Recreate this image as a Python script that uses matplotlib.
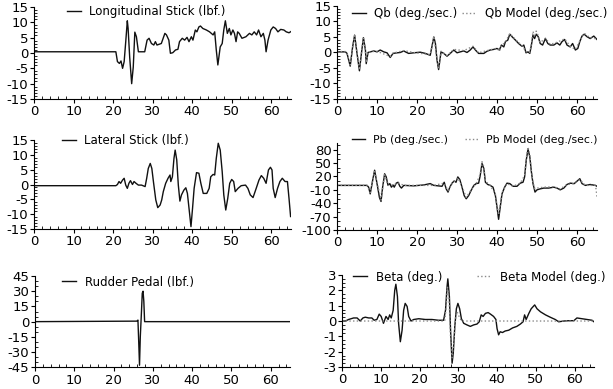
import matplotlib
matplotlib.use("Agg")
import matplotlib.pyplot as plt
from matplotlib.ticker import MultipleLocator

plt.rcParams['font.family'] = ['DejaVu Sans']
plt.rcParams['font.size'] = 8.5
plt.rcParams['axes.unicode_minus'] = False

# ---- longitudinal stick (lbf.)
lon_t = [0, 20.7, 21.1, 21.6, 22.0, 22.4, 22.8, 23.2, 23.6, 23.8, 24.2, 24.7, 25.1, 25.5, 25.9,
         26.4, 28.0, 28.6, 29.1, 29.7, 30.3, 30.7, 31.1, 32.2, 33.1, 33.5, 34.1, 34.5, 35.1,
         35.8, 36.4, 36.8, 37.5, 38.1, 38.7, 39.2, 39.8, 40.2, 40.8, 41.2, 41.7, 42.1, 42.7,
         43.6, 44.4, 45.3, 45.7, 46.1, 46.5, 47.1, 47.6, 48.0, 48.4, 48.9, 49.4, 49.8, 50.3,
         50.7, 51.1, 51.5, 51.9, 52.6, 53.6, 54.5, 55.1, 55.7, 56.3, 56.8, 57.4, 58.0, 58.4,
         58.7, 59.2, 59.9, 60.5, 61.1, 61.7, 62.4, 63.2, 63.8, 64.5, 65.0]
lon_v = [0.4, 0.4, -2.8, -3.4, -2.6, -5.0, -2.8, 3.7, 10.5, 8.0, -1.4, -10.0, -4.6, 6.8, 5.3,
         0.4, 0.4, 4.2, 4.8, 3.1, 2.6, 3.7, 2.6, 3.1, 6.4, 5.9, 4.2, -0.1, 0.1,
         1.0, 1.2, 3.7, 4.8, 4.2, 5.1, 3.7, 5.3, 4.2, 7.5, 6.9, 8.5, 8.8, 8.0,
         7.5, 6.9, 5.9, 6.9, 1.0, -3.9, 2.0, 3.1, 7.5, 10.5, 6.4, 8.0, 5.9, 7.5,
         6.4, 3.7, 6.9, 6.4, 4.8, 5.3, 6.4, 5.9, 6.9, 5.9, 7.5, 5.3, 6.4, 4.2,
         0.4, 4.2, 7.5, 8.5, 8.0, 6.9, 7.7, 7.5, 6.9, 6.6, 7.0]

# ---- lateral stick (lbf.)
lat_t = [0, 20.7, 21.1, 21.5, 21.9, 22.4, 22.8, 23.2, 23.6, 24.0, 24.4, 24.9, 25.3, 25.8,
         26.4, 27.2, 28.1, 28.5, 28.9, 29.4, 29.8, 30.2, 30.8, 31.3, 31.9, 32.3, 32.7, 33.3,
         33.9, 34.4, 34.6, 35.0, 35.4, 35.7, 36.1, 36.5, 36.9, 37.3, 37.9, 38.4, 38.8, 39.3,
         39.7, 40.1, 40.5, 41.1, 41.7, 42.2, 42.8, 43.7, 44.3, 44.7, 45.3, 45.7, 46.1, 46.6,
         47.1, 47.6, 48.0, 48.5, 49.0, 49.5, 50.0, 50.5, 50.9, 51.6, 52.4, 53.5, 54.1, 54.7,
         55.4, 56.2, 56.9, 57.5, 58.1, 58.7, 59.3, 59.8, 60.2, 60.5, 61.0, 61.6, 62.2, 62.8,
         63.5, 64.1, 64.5, 64.9]
lat_v = [-0.4, -0.4, 0.0, 1.0, 0.4, 1.5, 2.1, -0.2, -1.3, 0.4, 1.3, 0.0, 1.0, 0.4,
         -0.2, -0.2, -0.7, 2.1, 5.4, 7.1, 5.4, 1.0, -5.2, -7.8, -6.9, -5.2, -2.4, 0.4,
         2.1, 3.2, 1.0, 2.6, 8.8, 11.6, 8.3, -0.2, -5.6, -3.5, -1.9, -1.1, -3.0, -9.2,
         -14.2, -8.0, -1.3, 4.0, 3.8, 0.4, -3.0, -3.0, -1.3, 2.6, 3.4, 3.2, 8.8, 13.9,
         11.6, 4.3, -3.5, -8.6, -4.7, 0.4, 1.7, 1.0, -2.4, -1.3, -0.4, -0.2, -1.3, -3.5,
         -4.4, -1.3, 1.5, 3.0, 2.1, 0.4, 4.9, 5.8, 4.9, -1.3, -4.4, -1.3, 1.0, 2.1,
         1.0, 1.0, -4.7, -10.8]

# ---- rudder pedal (lbf.)
rud_t = [0, 25.9, 26.2, 26.4, 26.6, 26.8, 27.1, 27.3, 27.5, 27.7, 27.9, 65]
rud_v = [0, 0.5, 1.5, -20, -43, -15, 10, 28, 30, 20, 0, 0]

# ---- Qb (deg./sec.)
qb_t = [0, 2.1, 2.5, 3.3, 3.9, 4.4, 5.0, 5.6, 6.1, 6.6, 7.1, 7.3, 7.75, 8.3, 9.2, 10.0, 10.8,
        11.7, 12.5, 13.3, 14.0, 15.0, 15.8, 16.7, 17.1, 17.9, 19.2, 20.8, 22.1, 23.3, 24.2,
        24.6, 25.0, 25.4, 26.0, 26.7, 27.5, 28.3, 29.2, 30.0, 30.8, 31.7, 32.5, 33.3, 34.0,
        34.6, 35.4, 36.7, 37.5, 38.3, 39.2, 40.0, 40.6, 41.1, 41.7, 42.1, 42.7, 43.2, 43.75,
        44.6, 45.4, 46.25, 46.7, 47.25, 47.75, 48.2, 48.6, 49.0, 49.4, 49.8, 50.3, 50.8, 51.4,
        52.1, 52.7, 53.3, 54.2, 55.0, 55.7, 56.25, 56.9, 57.5, 58.3, 58.9, 59.6, 60.2, 60.7,
        61.25, 61.8, 62.5, 63.3, 64.2, 65.0]
qb_v = [0.2, 0.2, -0.3, -4.4, 1.8, 5.6, -0.3, -5.9, -0.3, 4.8, 0.8, -3.6, 0.0, 0.2, 0.5, 0.2, 0.8,
        0.2, -0.1, -1.6, -0.3, -0.1, 0.0, 0.5, 0.2, -0.3, -0.1, 0.1, -0.3, -0.9, 5.0,
        2.9, -2.5, -5.5, 0.2, -0.3, -1.2, -0.3, 0.8, -0.1, 0.2, 0.5, 0.0, 0.8, 1.8,
        0.8, -0.3, -0.3, 0.4, 0.8, 1.0, 1.3, 0.8, 2.4, 1.8, 3.5, 4.0, 5.9, 5.1,
        4.0, 2.9, 2.0, 2.4, -0.1, 0.2, -0.3, 2.4, 5.6, 4.5, 5.9, 5.1, 2.9, 2.4,
        4.5, 2.9, 2.4, 2.4, 3.1, 2.4, 3.5, 4.2, 2.4, 1.8, 2.9, 0.8, 1.3, 3.5,
        5.3, 5.9, 5.1, 4.5, 5.3, 4.2]
qb_model_t = [0, 2.1, 2.5, 3.3, 3.9, 4.4, 5.0, 5.6, 6.1, 6.6, 7.1, 7.3, 7.75, 10.0, 13.3, 14.0,
              16.7, 19.2, 23.3, 24.2, 25.0, 25.4, 26.0, 27.5, 29.2, 31.7, 34.0, 35.4, 37.5, 40.0,
              40.6, 41.1, 42.1, 43.2, 44.6, 46.25, 47.25, 48.2, 48.6, 49.0, 49.4, 49.8, 50.3,
              50.8, 52.1, 53.3, 55.0, 56.9, 58.3, 59.6, 60.7, 61.8, 63.3, 65.0]
qb_model_v = [0.3, 0.3, -0.2, -4.0, 1.9, 5.4, -0.2, -5.6, -0.2, 4.6, 0.9, -3.2, 0.2, 0.4, -1.3, -0.2,
              0.6, 0.0, -0.7, 5.2, -2.3, -5.2, 0.4, -1.0, 1.0, 0.6, 2.0, -0.1, 0.6, 1.4,
              0.4, 2.2, 3.3, 6.1, 4.2, 2.2, 0.3, 0.0, 2.8, 6.8, 5.0, 6.9, 5.4,
              3.2, 4.6, 2.6, 3.3, 4.4, 2.0, 1.0, 3.7, 6.2, 4.7, 4.4]

# ---- Pb (deg./sec.)
pb_t = [0, 7.5, 7.9, 8.3, 8.9, 9.4, 10.0, 10.6, 11.0, 11.4, 11.9, 12.3, 12.75, 13.2, 13.6,
        14.0, 14.3, 14.8, 15.25, 15.7, 16.1, 16.7, 19.2, 21.7, 23.3, 24.2, 26.25, 26.8, 27.3,
        27.75, 28.2, 28.75, 29.3, 29.75, 30.2, 30.7, 31.25, 31.8, 32.3, 32.9, 33.6, 34.2,
        34.8, 35.4, 35.8, 36.25, 36.7, 37.1, 37.7, 38.3, 39.0, 39.6, 40.0, 40.4, 40.8, 41.25,
        41.9, 42.5, 43.2, 44.0, 45.0, 45.8, 46.5, 46.9, 47.3, 47.75, 48.2, 48.6, 49.0, 49.5,
        50.0, 50.7, 51.7, 52.9, 54.2, 55.0, 55.8, 56.7, 57.5, 58.3, 59.3, 60.2, 60.7, 61.25,
        62.1, 63.3, 64.6, 65.0]
pb_v = [0, 0, -4, -19, 11, 34, 4, -27, -36, -4, 26, 19, 0, 4, -4,
        1, -4, 5, 7, -2, -6, 0, -1, 1, 4, 0, -2, 7, -8,
        -15, -4, 5, 10, 7, 19, 13, -4, -23, -30, -23, -10, 0,
        4, 5, 22, 49, 38, 7, 2, 0, -4, -23, -49, -76, -49, -19,
        -4, 5, 4, -2, -2, 5, 7, 19, 56, 81, 64, 30, 4, -15,
        -10, -8, -6, -6, -4, -6, -10, -6, 2, 5, 4, 11, 15, 4,
        0, 2, 0, -2]
pb_model_t = [0, 7.5, 8.3, 9.4, 11.0, 11.9, 12.75, 14.0, 15.25, 16.7, 24.2, 26.8, 27.75, 28.75,
              30.2, 31.25, 32.3, 33.6, 34.8, 35.8, 36.25, 36.7, 37.1, 38.3, 39.6, 40.0, 40.4,
              40.8, 41.25, 42.5, 44.0, 45.8, 46.9, 47.3, 47.75, 48.2, 48.6, 49.0, 49.5, 50.0,
              51.7, 54.2, 55.8, 57.5, 59.3, 60.7, 62.1, 64.6, 64.8, 65.0]
pb_model_v = [0, 0, -16, 31, -33, 24, 0, 1, 6, 0, 0, 5, -12, 4,
              17, -2, -27, -9, 4, 25, 53, 42, 9, 0, -20, -45, -66,
              -44, -16, 4, -2, 5, 22, 60, 86, 68, 33, 6, -8, -6,
              -4, -3, -8, 2, 4, 13, 0, 0, -10, -27]

# ---- Beta (deg.)
beta_t = [0, 0.9, 1.7, 3.0, 3.9, 4.7, 5.4, 6.0, 6.9, 7.7, 8.3, 9.0, 9.6, 10.1, 10.7, 11.35,
          11.9, 12.3, 12.7, 13.2, 13.6, 13.9, 14.3, 14.6, 15.05, 15.5, 15.9, 16.3, 16.8, 17.2,
          17.8, 18.5, 19.8, 21.5, 23.2, 24.9, 26.2, 26.7, 27.1, 27.3, 27.7, 28.0, 28.4, 28.7,
          29.1, 29.5, 29.9, 30.35, 30.8, 31.4, 32.2, 33.1, 34.0, 34.8, 35.4, 35.9, 36.4, 37.0,
          37.7, 38.3, 39.1, 39.7, 40.0, 40.4, 40.8, 41.4, 42.1, 43.0, 44.0, 45.1, 46.0, 46.7,
          47.1, 47.5, 48.2, 48.8, 49.7, 50.3, 51.2, 52.5, 53.7, 55.0, 55.9, 57.2, 58.5, 59.8,
          60.6, 61.9, 63.2, 64.5, 65.0]
beta_v = [0, 0, 0.1, 0.2, 0.2, 0, 0.2, 0.25, 0.2, 0.2, 0.05, 0.1, 0.45, 0.3, -0.15, 0.3,
          0.1, 0.4, 0.2, 0.7, 2.0, 2.4, 1.6, -0.15, -1.35, -0.6, 0.7, 1.15, 0.95, 0.3,
          0, 0.1, 0.15, 0.1, 0.1, 0.05, 0.05, 0.7, 2.25, 2.75, 1.6, -0.6, -2.75, -2.1,
          -0.35, 0.8, 1.15, 0.8, 0.15, -0.15, -0.25, -0.35, -0.25, -0.2, -0.05, 0.4, 0.3, 0.5,
          0.55, 0.45, 0.3, 0.1, -0.5, -0.9, -0.7, -0.75, -0.65, -0.6, -0.45, -0.35, -0.2, -0.05,
          0.4, 0.1, 0.5, 0.8, 1.05, 0.8, 0.6, 0.4, 0.25, 0.1, -0.05, 0, 0.02, 0.02,
          0.2, 0.15, 0.1, 0.05, -0.05]
beta_model_t = [0, 26.5, 26.9, 27.2, 27.6, 28.0, 28.4, 28.8, 29.3, 29.7, 30.2, 30.8, 65]
beta_model_v = [0, 0, 1.0, 2.2, 1.5, -1.0, -2.4, -1.5, 0.2, 0.6, 0.3, 0, 0]

DARK = '#111111'
MODEL = '#8a8a8a'

fig = plt.figure(figsize=(6.13, 3.89), dpi=100)


def setup(ax, ylim, yticks, yminor):
    ax.set_xlim(0, 65)
    ax.set_ylim(*ylim)
    ax.set_xticks([0, 10, 20, 30, 40, 50, 60])
    ax.set_yticks(yticks)
    ax.xaxis.set_minor_locator(MultipleLocator(2))
    ax.yaxis.set_minor_locator(MultipleLocator(yminor))
    for s in ['top', 'right']:
        ax.spines[s].set_visible(False)
    for s in ['left', 'bottom']:
        ax.spines[s].set_linewidth(0.8)
    ax.tick_params(which='major', direction='out', length=3, width=0.8, labelsize=9.5, pad=1)
    ax.tick_params(which='minor', direction='in', length=2, width=0.6)
    ax.tick_params(axis='x', which='major', pad=1.5)


def legend(ax, x, y, spacing, size=8.5):
    ax.legend(loc='center left', bbox_to_anchor=(x, y), ncol=2, frameon=False,
              handlelength=1.2, handletextpad=0.7, columnspacing=spacing,
              borderpad=0, borderaxespad=0, fontsize=size)


# top left
ax1 = fig.add_axes([0.0555, 0.7455, 0.4192, 0.2365])
ax1.plot(lon_t, lon_v, color=DARK, lw=1.0, label='Longitudinal Stick (lbf.)')
setup(ax1, (-15, 15), [-15, -10, -5, 0, 5, 10, 15], 1)
legend(ax1, 0.128, 0.946, 1)

# top right
ax2 = fig.add_axes([0.5498, 0.7455, 0.4241, 0.2391])
ax2.plot(qb_t, qb_v, color=DARK, lw=1.0, label='Qb (deg./sec.)')
ax2.plot(qb_model_t, qb_model_v, color=MODEL, lw=1.0, ls=':', label='Qb Model (deg./sec.)')
setup(ax2, (-15, 15), [-15, -10, -5, 0, 5, 10, 15], 1)
legend(ax2, 0.057, 0.914, 0.4)

# middle left
ax3 = fig.add_axes([0.0555, 0.4113, 0.4192, 0.2288])
ax3.plot(lat_t, lat_v, color=DARK, lw=1.0, label='Lateral Stick (lbf.)')
setup(ax3, (-15, 15), [-15, -10, -5, 0, 5, 10, 15], 1)
legend(ax3, 0.109, 0.989, 1)

# middle right
ax4 = fig.add_axes([0.5498, 0.4087, 0.4241, 0.2237])
ax4.plot(pb_t, pb_v, color=DARK, lw=1.0, label='Pb (deg./sec.)')
ax4.plot(pb_model_t, pb_model_v, color=MODEL, lw=1.0, ls=':', label='Pb Model (deg./sec.)')
setup(ax4, (-100, 95), [-100, -70, -40, -10, 20, 50, 80], 10)
legend(ax4, 0.058, 1.034, 1.6, size=7.8)

# bottom left
ax5 = fig.add_axes([0.0571, 0.0558, 0.4166, 0.2347])
ax5.plot(rud_t, rud_v, color=DARK, lw=1.0, label='Rudder Pedal (lbf.)')
setup(ax5, (-45, 45), [-45, -30, -15, 0, 15, 30, 45], 5)
legend(ax5, 0.106, 0.934, 1)

# bottom right
ax6 = fig.add_axes([0.5579, 0.0565, 0.4111, 0.2365])
ax6.plot(beta_t, beta_v, color=DARK, lw=1.0, label='Beta (deg.)')
ax6.plot(beta_model_t, beta_model_v, color=MODEL, lw=1.0, ls=':', label='Beta Model (deg.)')
setup(ax6, (-3, 3), [-3, -2, -1, 0, 1, 2, 3], 0.25)
legend(ax6, 0.044, 0.978, 3.0)

fig.savefig('out.png', dpi=100)
